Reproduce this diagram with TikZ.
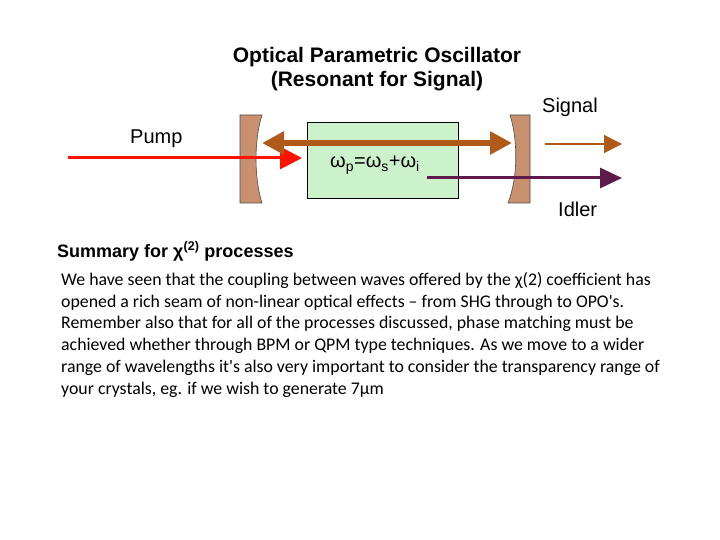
\documentclass[tikz,border=0pt]{standalone}
\usepackage{fontspec}
\setmainfont{Liberation Sans}
\newfontfamily\bodyfont{Carlito}
\usetikzlibrary{arrows.meta}
\definecolor{mirr}{HTML}{C8906E}
\definecolor{brn}{HTML}{B05A1A}
\definecolor{pur}{HTML}{5E1A4A}
\definecolor{grn}{HTML}{CCF2CC}
\begin{document}
\begin{tikzpicture}[x=1pt,y=-1pt,
  lbl/.style={font=\fontsize{20}{22}\selectfont,anchor=base west,inner sep=0}]
\useasboundingbox[fill=white] (0,0) rectangle (720,540);
\node[font=\bfseries\fontsize{21}{24}\selectfont,align=center] (title) at (377,69) {Optical Parametric Oscillator\\(Resonant for Signal)};
% mirrors
\path[draw=black!70,fill=mirr,line width=0.6pt] (240,115) -- (262,115) .. controls (254,140) and (254,178) .. (262,203) -- (240,203) -- cycle;
\path[draw=black!70,fill=mirr,line width=0.6pt] (530,115) -- (510,115) .. controls (518,140) and (518,178) .. (508,203) -- (530,203) -- cycle;
\node[draw=black,fill=grn,minimum width=151pt,minimum height=76pt,anchor=north west,inner sep=0,line width=0.8pt] (xtal) at (307,122) {};
\node[font=\fontsize{20}{22}\selectfont,anchor=base west,inner sep=0] (eq) at (330,168) {ω\textsubscript{p}=ω\textsubscript{s}+ω\textsubscript{i}};
\coordinate (pa) at (68,158); \coordinate (pb) at (302,158);
\coordinate (ba) at (262,143); \coordinate (bb) at (512,143);
\coordinate (sa) at (545,144); \coordinate (sb) at (622,144);
\coordinate (ia) at (427,178); \coordinate (ib) at (622,178);
\draw[red!85!orange,line width=3pt,-{Triangle[length=22pt,width=22pt]}] (pa) -- (pb);
\draw[brn,line width=6pt,{Triangle[length=22pt,width=22pt]}-{Triangle[length=22pt,width=22pt]}] (ba) -- (bb);
\draw[brn,line width=1.5pt,-{Triangle[length=18pt,width=18pt]}] (sa) -- (sb);
\draw[pur,line width=3pt,-{Triangle[length=22pt,width=20pt]}] (ia) -- (ib);
\node[lbl] (pump) at (130,144) {Pump};
\node[lbl] (sig) at (542,113) {Signal};
\node[lbl] (idl) at (558,216) {Idler};
\node[lbl,font=\bfseries\fontsize{18}{20}\selectfont] (sum) at (57,257) {Summary for χ\textsuperscript{(2)} processes};
\node[anchor=north west,inner sep=0,align=left,font=\bodyfont\fontsize{17.8}{21.8}\selectfont] (body) at (61,272) {We have seen that the coupling between waves offered by the χ(2) coefficient has\\opened a rich seam of non-linear optical effects – from SHG through to OPO's.\\Remember also that for all of the processes discussed, phase matching must be\\achieved whether through BPM or QPM type techniques.  As we move to a wider\\range of wavelengths it's also very important to consider the transparency range of\\your crystals, eg. if we wish to generate 7µm};
\end{tikzpicture}
\end{document}
